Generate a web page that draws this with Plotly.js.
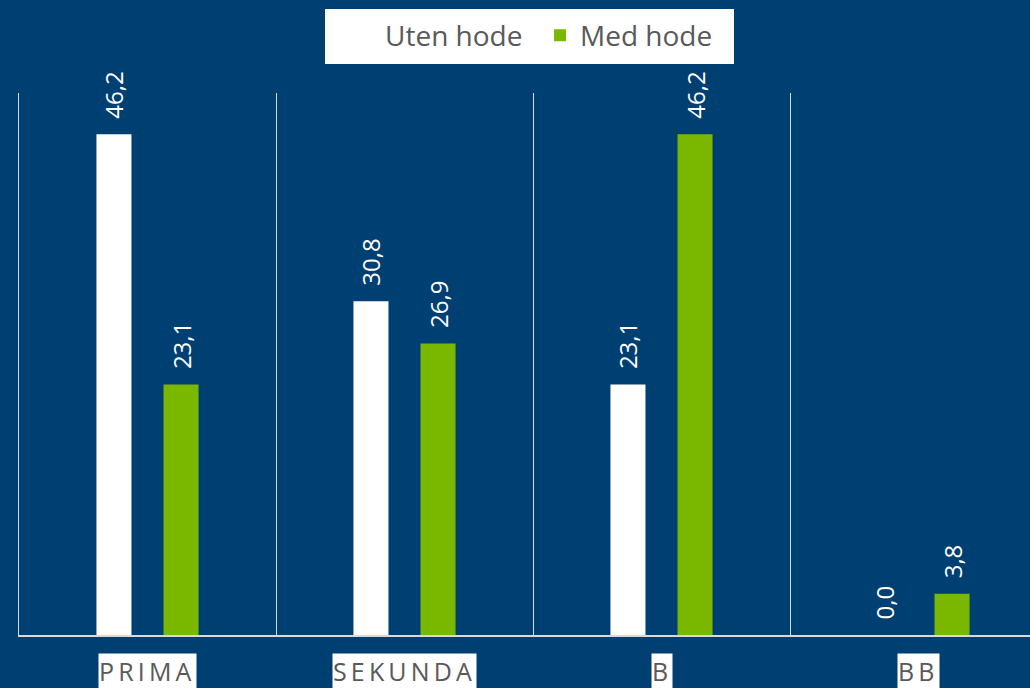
<!DOCTYPE html>
<html>
<head>
<meta charset="utf-8">
<script src="https://cdn.plot.ly/plotly-3.0.1.min.js"></script>
<style>
  html, body { margin: 0; padding: 0; background: #003f72; }
  #chart { width: 1030px; height: 688px; }
</style>
</head>
<body>
<div id="chart"></div>
<script>
const categories = ['PRIMA', 'SEKUNDA', 'B', 'BB'];
const seriesNames = ['Uten hode', 'Med hode'];
const utenHode = [46.2, 30.8, 23.1, 0.0];
const medHode = [23.1, 26.9, 46.2, 3.8];

const BG = '#003f72';
const GREEN = '#7ab800';
const GRID = '#d9d9d9';
const TEXTGRAY = '#595959';
const FONT = '"Open Sans", "Noto Sans", sans-serif';

function spaced(s) {
  return s.split('').join('\u2009') + '\u2009';
}

const labelTemplate = '\u00A0\u00A0%{y:.1f}';

const traces = [
  {
    type: 'bar',
    name: seriesNames[0],
    x: categories,
    y: utenHode,
    marker: { color: '#ffffff' },
    texttemplate: labelTemplate,
    textposition: 'outside',
    textangle: -90,
    constraintext: 'none',
    cliponaxis: false,
    textfont: { family: FONT, size: 24, color: '#ffffff' }
  },
  {
    type: 'bar',
    name: seriesNames[1],
    x: categories,
    y: medHode,
    marker: { color: GREEN },
    texttemplate: labelTemplate,
    textposition: 'outside',
    textangle: -90,
    constraintext: 'none',
    cliponaxis: false,
    textfont: { family: FONT, size: 24, color: '#ffffff' }
  }
];

const annotations = categories.map(c => ({
  x: c,
  xref: 'x',
  y: -0.0664,
  yref: 'paper',
  yanchor: 'middle',
  xanchor: 'center',
  text: spaced(c),
  showarrow: false,
  bgcolor: '#ffffff',
  borderpad: 0,
  font: { family: FONT, size: 25, color: TEXTGRAY }
}));

const layout = {
  width: 1030,
  height: 688,
  paper_bgcolor: BG,
  plot_bgcolor: BG,
  separators: ',.',
  margin: { l: 19, r: 0, t: 93, b: 53, pad: 0 },
  barmode: 'group',
  bargap: 0.478,
  bargroupgap: 0.478,
  showlegend: true,
  legend: {
    orientation: 'h',
    x: 0.3225,
    xanchor: 'left',
    y: 1.1060,
    yanchor: 'middle',
    bgcolor: 'rgba(0,0,0,0)',
    borderwidth: 0,
    entrywidth: 150,
    entrywidthmode: 'pixels',
    font: { family: FONT, size: 28, color: TEXTGRAY },
    itemclick: false,
    itemdoubleclick: false
  },
  shapes: [{
    type: 'rect',
    xref: 'paper',
    yref: 'paper',
    x0: 0.3027,
    x1: 0.7072,
    y0: 1.0535,
    y1: 1.155,
    fillcolor: '#ffffff',
    line: { width: 0 },
    layer: 'below'
  }],
  xaxis: {
    type: 'category',
    range: [-0.5, -0.5 + 1011 / 257],
    showticklabels: false,
    ticks: '',
    tickson: 'boundaries',
    showgrid: true,
    gridcolor: GRID,
    gridwidth: 1,
    showline: true,
    linecolor: GRID,
    linewidth: 2,
    zeroline: false,
    fixedrange: true
  },
  yaxis: {
    range: [0, 50],
    showticklabels: false,
    showgrid: false,
    zeroline: false,
    showline: true,
    linecolor: GRID,
    linewidth: 1,
    ticks: '',
    fixedrange: true
  },
  annotations: annotations,
  hovermode: false
};

Plotly.newPlot('chart', traces, layout, { displayModeBar: false, staticPlot: true });
</script>
</body>
</html>
